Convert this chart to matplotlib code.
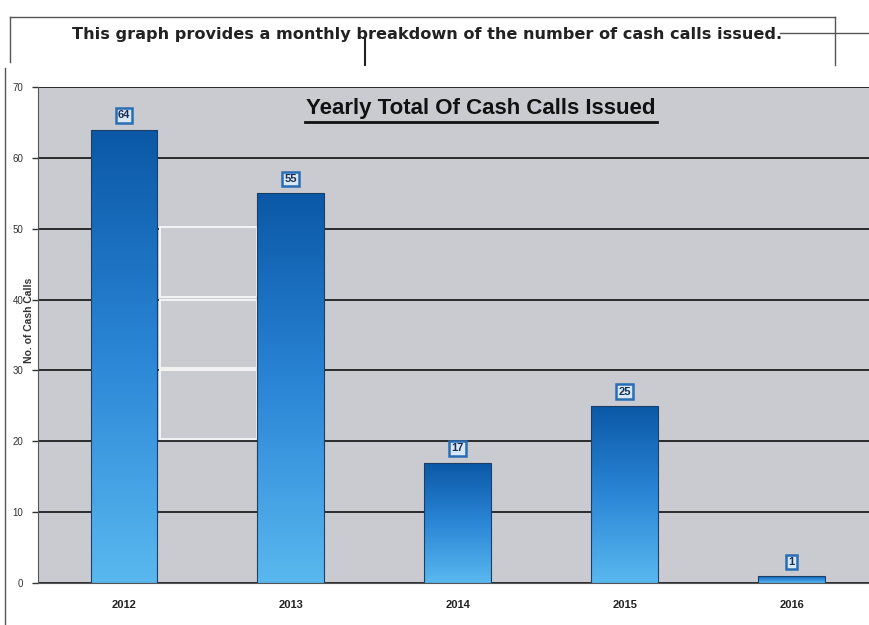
import numpy as np
import matplotlib.pyplot as plt
from matplotlib.colors import LinearSegmentedColormap
from matplotlib.patches import Rectangle
from matplotlib.lines import Line2D

years = ["2012", "2013", "2014", "2015", "2016"]
calls = [64, 55, 17, 25, 1]
yticks = [0, 10, 20, 30, 40, 50, 60, 70]

plt.rcParams['font.family'] = ['Liberation Sans', 'DejaVu Sans']

fig = plt.figure(figsize=(8.7, 6.25), dpi=100)
fig.patch.set_facecolor('white')
ax = fig.add_axes([38/870, 1-583/625, 832/870, 496/625])
ax.set_facecolor('#cacbd0')

x = np.arange(len(years))
bars = ax.bar(x, calls, width=0.4, color='none', edgecolor='#1d3f66', linewidth=0.8, zorder=3)

# vertical blue gradient inside each bar
cmap = LinearSegmentedColormap.from_list('blu', ['#5ab8ef', '#2b86d6', '#0a58a6'])
grad = np.linspace(0, 1, 256).reshape(-1, 1)
for b in bars:
    x0, y0, w, h = b.get_x(), b.get_y(), b.get_width(), b.get_height()
    im = ax.imshow(grad, cmap=cmap, origin='lower', aspect='auto',
                   extent=[x0, x0 + w, y0, y0 + max(h, 0.8)], zorder=2)
    im.set_clip_path(b)

for xi, v in zip(x, calls):
    ax.text(xi, v + 2.0, str(v), ha='center', va='center', fontsize=8,
            fontweight='bold', color='#1b2f55', zorder=5,
            bbox=dict(boxstyle='square,pad=0.2', fc='#d8e8f6', ec='#2a6db5', lw=1.8))

# grey patches over the gap between first two bars (scan artefact)
for lo, hi in [(40.3, 50.2), (30.3, 40.0), (20.3, 30.0)]:
    ax.add_patch(Rectangle((0.215, lo), 0.585, hi - lo, fc='#c9cbd0', ec='#f2f2f2',
                           lw=1.5, zorder=1.5))

ax.set_xlim(-0.515, 4.47)
ax.set_ylim(0, 70)
ax.set_yticks(yticks)
ax.set_xticks(x)
ax.set_xticklabels(years, fontsize=8, fontweight='bold', color='#222222')
ax.tick_params(axis='y', labelsize=7, colors='#333333', length=4, width=1, pad=6.5)
ax.tick_params(axis='x', length=0, pad=12)
ax.yaxis.grid(True, color='#2a2a2a', linewidth=1.4, zorder=1)
ax.set_axisbelow(True)
for s in ['top', 'right']:
    ax.spines[s].set_visible(False)
ax.spines['left'].set_color('#555555')
ax.spines['bottom'].set_color('#555555')
ax.set_ylabel("No. of Cash Calls", fontsize=7.5, fontweight='bold', color='#333333')
ax.yaxis.set_label_coords(-0.005, 0.53)

ax.text(0.532, 0.977, "Yearly Total Of Cash Calls Issued", transform=ax.transAxes,
        ha='center', va='top', fontsize=16, fontweight='bold', color='#111111')
ax.add_line(Line2D([0.321, 0.744], [0.93, 0.93], transform=ax.transAxes, color='#111111', lw=2))

fig.text(427/870, 1-34/625, "This graph provides a monthly breakdown of the number of cash calls issued.",
         ha='center', va='center', fontsize=11.6, fontweight='bold', color='#222222',
         family='DejaVu Sans')

# document frame lines from the scan
lc = '#555555'
fig.add_artist(Line2D([10/870, 835/870], [1-17/625, 1-17/625], color=lc, lw=1))
fig.add_artist(Line2D([10/870, 10/870], [1-17/625, 1-62/625], color=lc, lw=1))
fig.add_artist(Line2D([835/870, 835/870], [1-17/625, 1-65/625], color=lc, lw=1))
fig.add_artist(Line2D([365/870, 365/870], [1-38/625, 1-65/625], color='#222222', lw=1.5))
fig.add_artist(Line2D([780/870, 1.0], [1-33/625, 1-33/625], color=lc, lw=1))
fig.add_artist(Line2D([5/870, 5/870], [1-68/625, 0.0], color=lc, lw=1))

fig.savefig("out.png", dpi=100)
